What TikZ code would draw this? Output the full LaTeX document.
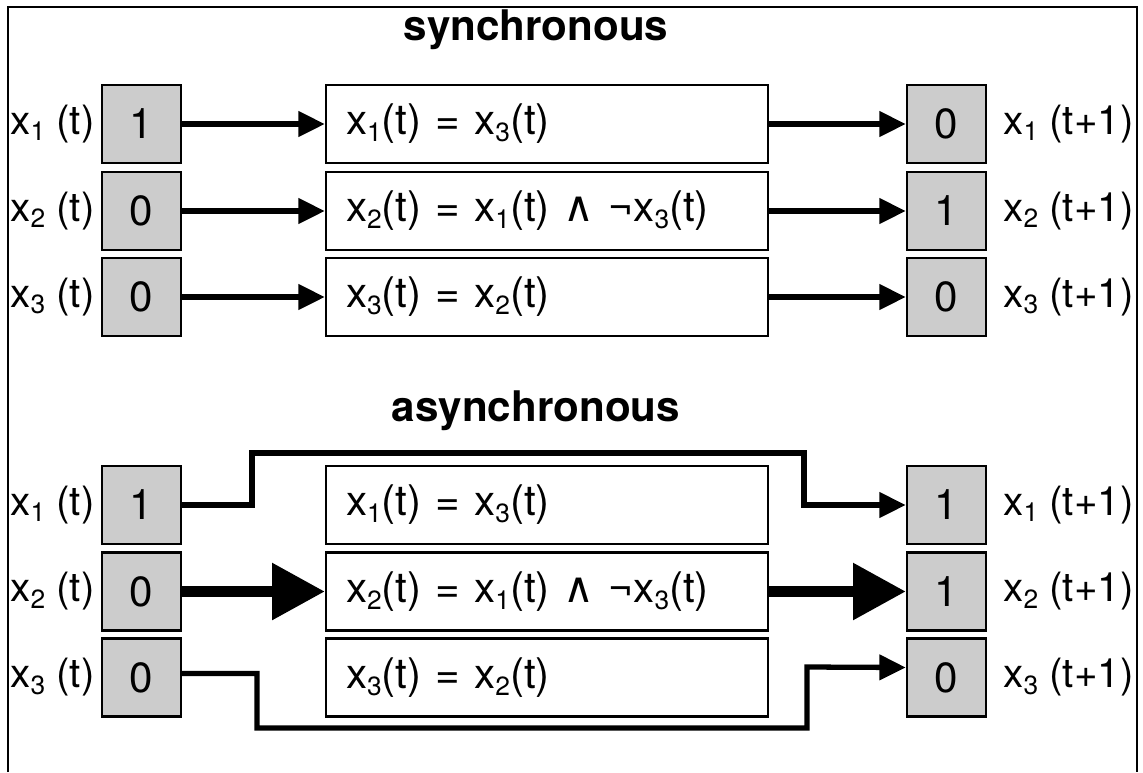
\documentclass[tikz,border=0pt]{standalone}
\usepackage{fontspec}
\setmainfont{TeX Gyre Heros}
\newfontfamily\wedgefont{DejaVu Sans}
\usetikzlibrary{arrows.meta}
\newcommand\xv[1]{x\raisebox{-0.3ex}{\fontsize{15}{15}\selectfont #1}}
\begin{document}
\begin{tikzpicture}[x=0.02cm,y=-0.02cm,line join=miter,font=\fontsize{24}{28}\selectfont,
	val/.style={draw,line width=1.4pt,fill=gray!40,minimum width=1.58cm,minimum height=1.56cm,inner sep=0pt},
	rule/.style={draw,line width=1.4pt,fill=white,text width=8.04cm,inner xsep=0.4cm,inner ysep=0pt,minimum height=1.56cm,align=left},
	inlbl/.style={anchor=east,inner xsep=0pt,font=\fontsize{23}{28}\selectfont},
	outlbl/.style={anchor=west,inner xsep=0pt,font=\fontsize{23}{28}\selectfont},
	conn/.style={line width=3pt,-{Triangle[length=15pt,width=14pt]}},
	fat/.style={line width=6pt,-{Triangle[length=30pt,width=31pt]}}]
	\useasboundingbox (0,0) rectangle (1143,772);
	\draw[line width=0.8pt] (8,772)--(8,7)--(1137,7)--(1137,772);
	\node[font=\fontsize{24}{28}\selectfont\bfseries] (sync) at (536,30) {synchronous};
	\node[font=\fontsize{24}{28}\selectfont\bfseries] (async) at (536,411) {asynchronous};
	\node[val] (si1) at (141.5,124) {1};
	\node[val] (si2) at (141.5,211) {0};
	\node[val] (si3) at (141.5,297) {0};
	\node[rule] (sr1) at (547,124) {\xv1(t) = \xv3(t)};
	\node[rule] (sr2) at (547,211) {\xv2(t) = \xv1(t) {\wedgefont ∧} ¬\xv3(t)};
	\node[rule] (sr3) at (547,297) {\xv3(t) = \xv2(t)};
	\node[val] (so1) at (946.5,124) {0};
	\node[val] (so2) at (946.5,211) {1};
	\node[val] (so3) at (946.5,297) {0};
	\node[inlbl] (sl1) at (95,124) {\xv1 (t)};
	\node[inlbl] (sl2) at (95,211) {\xv2 (t)};
	\node[inlbl] (sl3) at (95,297) {\xv3 (t)};
	\node[outlbl] (sn1) at (1003,124) {\xv1 (t+1)};
	\node[outlbl] (sn2) at (1003,211) {\xv2 (t+1)};
	\node[outlbl] (sn3) at (1003,297) {\xv3 (t+1)};
	\draw[conn] (si1)--(sr1);
	\draw[conn] (si2)--(sr2);
	\draw[conn] (si3)--(sr3);
	\draw[conn] (sr1)--(so1);
	\draw[conn] (sr2)--(so2);
	\draw[conn] (sr3)--(so3);
	\node[val] (ai1) at (141.5,505) {1};
	\node[val] (ai2) at (141.5,591.5) {0};
	\node[val] (ai3) at (141.5,677.5) {0};
	\node[rule] (ar1) at (547,505) {\xv1(t) = \xv3(t)};
	\node[rule] (ar2) at (547,591.5) {\xv2(t) = \xv1(t) {\wedgefont ∧} ¬\xv3(t)};
	\node[rule] (ar3) at (547,677.5) {\xv3(t) = \xv2(t)};
	\node[val] (ao1) at (946.5,505) {1};
	\node[val] (ao2) at (946.5,591.5) {1};
	\node[val] (ao3) at (946.5,677.5) {0};
	\node[inlbl] (al1) at (95,505) {\xv1 (t)};
	\node[inlbl] (al2) at (95,591.5) {\xv2 (t)};
	\node[inlbl] (al3) at (95,677.5) {\xv3 (t)};
	\node[outlbl] (an1) at (1003,505) {\xv1 (t+1)};
	\node[outlbl] (an2) at (1003,591.5) {\xv2 (t+1)};
	\node[outlbl] (an3) at (1003,677.5) {\xv3 (t+1)};
	\draw[conn] (ai1)-|(252,453)-|(804,505)--(ao1);
	\draw[fat] (ai2)--(ar2);
	\draw[fat] (ar2)--(ao2);
	\draw[conn] ([yshift=0.08cm]ai3.east)-|(257,728)-|(807,667)--([yshift=0.2cm]ao3.west);
\end{tikzpicture}
\end{document}
